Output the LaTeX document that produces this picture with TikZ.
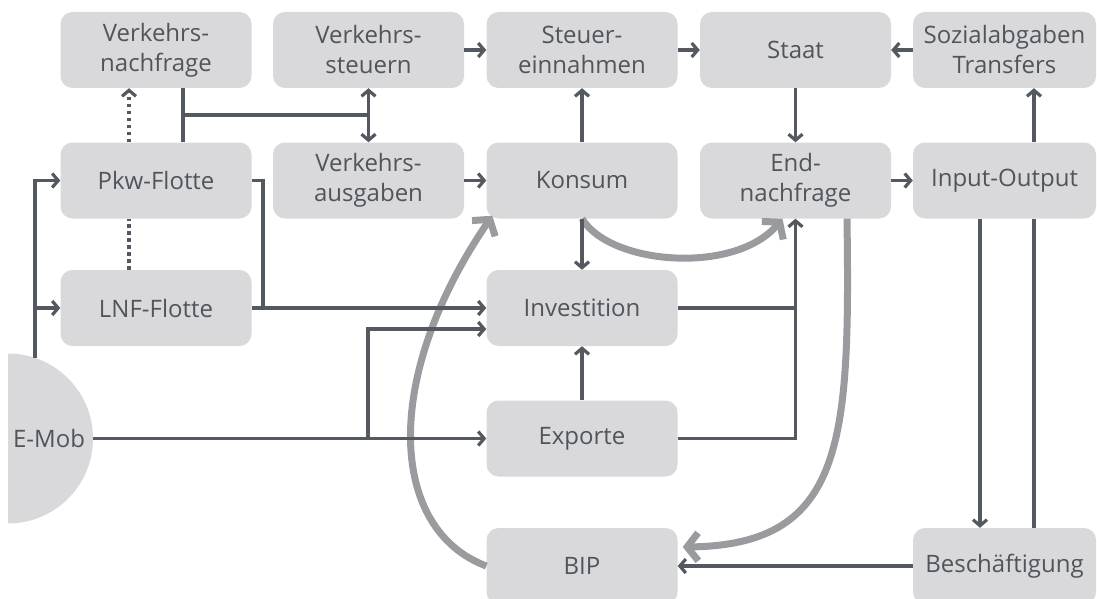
\documentclass[tikz,border=0pt]{standalone}
\usepackage{fontspec}
\setsansfont{Open Sans}
\usetikzlibrary{arrows.meta}
\definecolor{boxgray}{RGB}{217,217,219}
\definecolor{txtgray}{RGB}{80,85,93}
\definecolor{linegray}{RGB}{84,89,97}
\definecolor{loopgray}{RGB}{154,155,159}
\begin{document}
\begin{tikzpicture}[font=\sffamily\fontsize{24}{30}\selectfont,x=1pt,y=-1pt,
  box/.style={fill=boxgray,text=txtgray,rounded corners=12pt,minimum width=191pt,minimum height=76pt,inner sep=0pt,align=center},
  ln/.style={linegray,line width=3.2pt},
  arr/.style={ln,-{Straight Barb[length=6pt,width=14pt]}},
  dotline/.style={ln,dash pattern=on 3.5pt off 3.5pt},
  loop/.style={loopgray,line width=7pt,-{Straight Barb[length=11pt,width=28pt]}}]
\useasboundingbox (0,0) rectangle (1097,599);
% E-Mob half disc
\coordinate (emobc) at (8,438.5);
\fill[boxgray] ([yshift=-85pt]emobc) arc[start angle=-90,end angle=90,radius=85pt] -- cycle;
\node[text=txtgray] (emob) at (49,438.5) {E-Mob};
\coordinate (etop) at ([shift={(27pt,80.6pt)}]emobc);
\coordinate (eright) at ([xshift=85pt]emobc);
% boxes
\node[box] (vn) at (156,50) {Verkehrs-\\nachfrage};
\node[box] (vst) at (368.5,50) {Verkehrs-\\steuern};
\node[box] (stein) at (582,50) {Steuer-\\einnahmen};
\node[box] (staat) at (795.5,50) {Staat};
\node[box,minimum width=183pt] (sozi) at (1004.5,50) {Sozialabgaben\\Transfers};
\node[box] (pkw) at (156,180.5) {Pkw-Flotte};
\node[box] (vau) at (368.5,180.5) {Verkehrs-\\ausgaben};
\node[box] (kon) at (582,180.5) {Konsum};
\node[box] (endn) at (795.5,180.5) {End-\\nachfrage};
\node[box,minimum width=183pt] (io) at (1004.5,180.5) {Input-Output};
\node[box] (lnf) at (156,308) {LNF-Flotte};
\node[box] (inv) at (582,308) {Investition};
\node[box] (exp) at (582,438.5) {Exporte};
\node[box] (bip) at (582,566) {BIP};
\node[box,minimum width=183pt] (besch) at (1004.5,566) {Beschäftigung};
% feedback loops
\draw[loop] (bip.west) .. controls (390,530) and (380,380) .. ([xshift=6pt,yshift=3pt]kon.south west);
\draw[loop] (kon.south) .. controls (610,265) and (735,275) .. ([xshift=-13pt]endn.south);
\draw[loop] ([xshift=51.5pt]endn.south) .. controls (850,440) and (845,545) .. ([xshift=5pt,yshift=19pt]bip.east);
% top rows
\draw[arr] (vst) -- (stein);
\draw[arr] (stein) -- (staat);
\draw[arr] (sozi) -- (staat);
\draw[arr] (vau) -- (kon);
\draw[arr] (endn) -- (io);
\draw[arr] (kon) -- (stein);
\draw[arr] (staat) -- (endn);
\draw[ln] ([xshift=27pt]vn.south) -- ([xshift=27pt]pkw.north);
\coordinate (vnj) at (183,115); \coordinate (vsj) at (368.5,115);
\draw[ln] (vnj) -- (vsj);
\draw[ln,{Straight Barb[length=6pt,width=14pt]}-{Straight Barb[length=6pt,width=14pt]}] (vst) -- (vau);
\draw[dotline,-{Straight Barb[length=6pt,width=14pt]}] ([xshift=-27pt]pkw.north) -- ([xshift=-27pt]vn.south);
\draw[dotline] ([xshift=-27pt]lnf.north) -- ([xshift=-27pt]pkw.south);
% fleets and E-Mob
\draw[arr] (etop) |- (pkw.west);
\draw[arr] (etop |- lnf.west) -- (lnf.west);
\coordinate (pj) at (263,308);
\draw[ln] (pkw.east) -| (pj);
\draw[arr] (lnf) -- (inv);
\draw[arr] (eright) -- (exp.west);
\coordinate (ej) at (368,438.5);
\draw[arr] (ej) |- ([yshift=-21pt]inv.west);
% demand side
\draw[arr] (kon) -- (inv);
\draw[arr] (exp) -- (inv);
\draw[ln] (inv.east) -- (inv.east -| endn.south);
\draw[arr] (exp.east) -| (endn.south);
\draw[arr] ([xshift=-24.5pt]io.south) -- ([xshift=-24.5pt]besch.north);
\draw[ln] ([xshift=29.5pt]besch.north) -- ([xshift=29.5pt]io.south);
\draw[arr] ([xshift=29.5pt]io.north) -- ([xshift=29.5pt]sozi.south);
\draw[arr] (besch) -- (bip);
\end{tikzpicture}
\end{document}
